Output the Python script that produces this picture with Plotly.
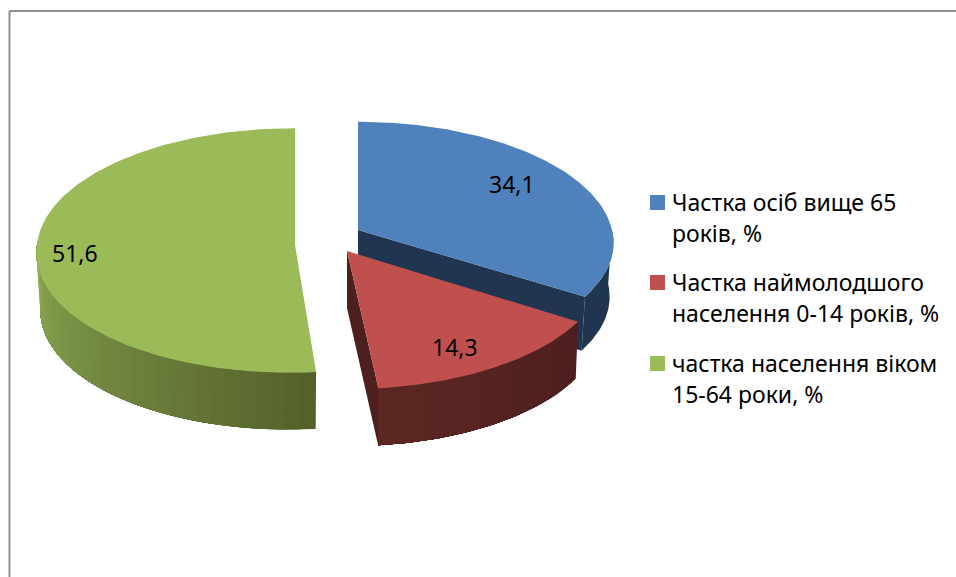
import math
import plotly.graph_objects as go

# ---- data ----
CATEGORIES = ["Частка осіб вище 65 років, %",
              "Частка наймолодшого населення 0-14 років, %",
              "частка населення віком 15-64 роки, %"]
VALUES = [34.1, 14.3, 51.6]
VALUE_LABELS = ["34,1", "14,3", "51,6"]
LEGEND_LINES = [["Частка осіб вище 65", "років, %"],
                ["Частка наймолодшого", "населення 0-14 років, %"],
                ["частка населення віком", "15-64 роки, %"]]

# ---- styling ----
TOP = ["#4f81bd", "#c0504d", "#9bbb59"]
SIDE_A = [(31, 53, 80), (76, 31, 30), (84, 98, 42)]    # at start of arc
SIDE_B = [(31, 53, 80), (93, 39, 35), (141, 170, 84)]  # at end of visible arc
CUT = ["#1f3550", "#4d1f1f", "#546229"]
CX = [358, 347, 295]
CY = [230, 251, 245]
RX = [254, 257, 258]
RY = [116, 123, 122]
RY_BACK = [120, 123, 122]
K = [0.109, 0.109, 0.044]
LEAN = [0, 2.5, -6]
DEPTH = [54, 57, 57]
SHRINK = [0.985, 0.99, 0.985]
FONT = "Noto Sans"
FS = 23
LABEL_XY = [(512, 184), (455, 347), (75, 253)]

fig = go.Figure()


def project(i, deg, shrink=1.0, drop=0.0, radial=1.0):
    t = math.radians(deg)
    u, v = math.sin(t) * radial, -math.cos(t) * radial
    w = 1 - K[i] * v
    x = CX[i] + shrink * RX[i] * u / w + LEAN[i] * max(v, 0)
    y = CY[i] + (RY[i] if v >= 0 else RY_BACK[i]) * v / w + drop
    return x, y


def poly(xs, ys, color, name=""):
    fig.add_trace(go.Scatter(x=xs, y=ys, mode="lines", fill="toself", fillcolor=color,
                             line=dict(color=color, width=0), hoverinfo="skip",
                             showlegend=False, name=name))


def rgb(c):
    return "rgb(%d,%d,%d)" % tuple(round(a) for a in c)


# slice sweeps from the values, clockwise from twelve o'clock
total = sum(VALUES)
starts, ends = [], []
acc = 0.0
for v in VALUES:
    starts.append(acc * 360 / total)
    acc += v
    ends.append(acc * 360 / total)

# visible outer side arcs
vis_start = [90, starts[1], starts[2]]
vis_end = [ends[0], ends[1], 272]

for i in [0, 2, 1]:
    # cut faces (the green slice has none visible)
    if i != 2:
        a = project(i, ends[i], radial=0)
        b = project(i, ends[i])
        c = project(i, ends[i], SHRINK[i], DEPTH[i])
        d = project(i, ends[i], SHRINK[i], DEPTH[i], radial=0)
        poly([a[0], b[0], c[0], d[0], a[0]], [a[1], b[1], c[1], d[1], a[1]], CUT[i])
    # outer side, painted back to front so that each shade covers the seam of the last
    n = 30 if i else 1
    span = vis_end[i] - vis_start[i]
    for s in range(n):
        a0 = vis_start[i] + span * s / n
        m = 60
        arc = [a0 + (vis_end[i] - a0) * q / m for q in range(m + 1)]
        top = [project(i, a) for a in arc]
        bot = [project(i, a, SHRINK[i], DEPTH[i]) for a in reversed(arc)]
        pts = top + bot + top[:1]
        f = s / max(n - 1, 1)
        col = [SIDE_A[i][c] + (SIDE_B[i][c] - SIDE_A[i][c]) * f for c in range(3)]
        poly([p[0] for p in pts], [p[1] for p in pts], rgb(col))
    # top face
    m = 160
    arc = [project(i, starts[i] + (ends[i] - starts[i]) * q / m) for q in range(m + 1)]
    apex = project(i, 0, radial=0)
    pts = [apex] + arc + [apex]
    poly([p[0] for p in pts], [p[1] for p in pts], TOP[i], CATEGORIES[i])

# data labels
for (x, y), txt in zip(LABEL_XY, VALUE_LABELS):
    fig.add_annotation(x=x, y=y, text=txt, showarrow=False, xanchor="center", yanchor="middle",
                       font=dict(family=FONT, size=FS, color="#000000"))

# legend
SWATCH_Y = [202.5, 282.5, 363.5]
LINE_GAP = 31
fig.add_trace(go.Scatter(x=[657.5] * 3, y=SWATCH_Y, mode="markers",
                         marker=dict(symbol="square", size=15, color=TOP, line=dict(width=0)),
                         hoverinfo="skip", showlegend=False))
for y0, lines in zip(SWATCH_Y, LEGEND_LINES):
    for j, line in enumerate(lines):
        fig.add_annotation(x=670, y=y0 + j * LINE_GAP - 0.5, text=line, showarrow=False,
                           xanchor="left", yanchor="middle",
                           font=dict(family=FONT, size=FS, color="#000000"))

# chart frame
FRAME = "#8e8e8e"
fig.add_shape(type="line", x0=9.5, x1=9.5, y0=11, y1=577, line=dict(color=FRAME, width=2))
fig.add_shape(type="line", x0=9.5, x1=956, y0=11, y1=11, line=dict(color=FRAME, width=2))

fig.update_layout(width=956, height=577, margin=dict(l=0, r=0, t=0, b=0),
                  paper_bgcolor="white", plot_bgcolor="white", showlegend=False,
                  xaxis=dict(range=[0, 956], visible=False, fixedrange=True),
                  yaxis=dict(range=[577, 0], visible=False, fixedrange=True))
fig.write_html("out.html", config={"displayModeBar": False},
               post_script="document.body.style.margin='0';document.body.style.overflow='hidden';")
